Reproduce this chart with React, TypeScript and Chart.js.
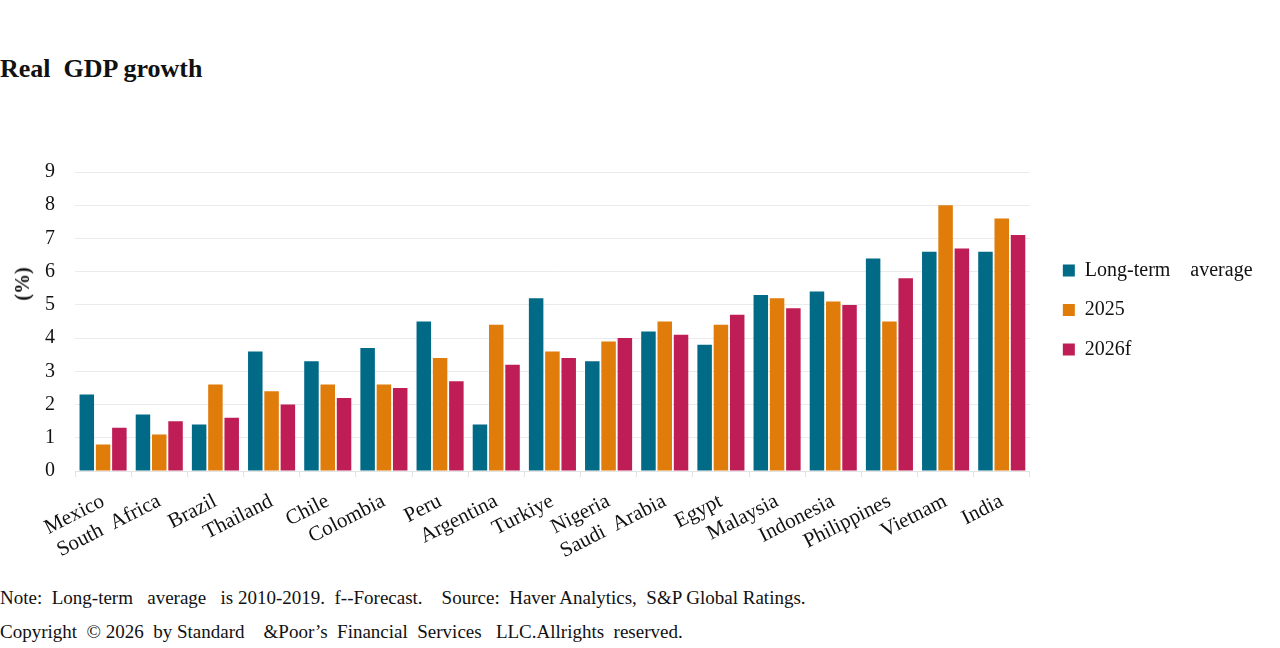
import React, { useEffect, useRef } from "react";
import { Chart, registerables } from "chart.js";

Chart.register(...registerables);

const categories = [
  "Mexico", "South  Africa", "Brazil", "Thailand", "Chile", "Colombia", "Peru",
  "Argentina", "Turkiye", "Nigeria", "Saudi  Arabia", "Egypt", "Malaysia",
  "Indonesia", "Philippines", "Vietnam", "India",
];
const longTermAverage = [2.3, 1.7, 1.4, 3.6, 3.3, 3.7, 4.5, 1.4, 5.2, 3.3, 4.2, 3.8, 5.3, 5.4, 6.4, 6.6, 6.6];
const y2025 = [0.8, 1.1, 2.6, 2.4, 2.6, 2.6, 3.4, 4.4, 3.6, 3.9, 4.5, 4.4, 5.2, 5.1, 4.5, 8.0, 7.6];
const y2026f = [1.3, 1.5, 1.6, 2.0, 2.2, 2.5, 2.7, 3.2, 3.4, 4.0, 4.1, 4.7, 4.9, 5.0, 5.8, 6.7, 7.1];
const seriesNames = ["Long-term    average", "2025", "2026f"];
const seriesColors = ["#006a87", "#df7c0a", "#be1e55"];
const yTicks = [0, 1, 2, 3, 4, 5, 6, 7, 8, 9];

const FONT = "'Liberation Serif', 'Times New Roman', serif";

export default function App() {
  const ref = useRef<HTMLCanvasElement | null>(null);

  useEffect(() => {
    if (!ref.current) return;
    const chart = new Chart(ref.current, {
      type: "bar",
      data: {
        labels: categories,
        datasets: [longTermAverage, y2025, y2026f].map((d, i) => ({
          label: seriesNames[i],
          data: d,
          backgroundColor: seriesColors[i],
          borderWidth: 0,
          categoryPercentage: 0.87,
          barPercentage: 0.89,
        })),
      },
      options: {
        animation: false,
        responsive: true,
        maintainAspectRatio: false,
        layout: { padding: { top: 11, right: 28, bottom: 0, left: 0 } },
        plugins: {
          tooltip: { enabled: false },
          legend: {
            position: "right",
            align: "start",
            title: {
              display: true,
              text: " ",
              font: { size: 10, lineHeight: 1 },
              padding: { top: 80, bottom: 0 },
            },
            labels: {
              boxWidth: 12,
              boxHeight: 12,
              padding: 19.5,
              color: "#111",
              font: { family: FONT, size: 20 },
            },
          },
        },
        scales: {
          x: {
            grid: {
              display: true,
              drawOnChartArea: false,
              drawTicks: true,
              tickLength: 6,
              color: "#e3e3e3",
              offset: true,
            },
            border: { display: true, color: "#e3e3e3" },
            ticks: {
              color: "#111",
              font: { family: FONT, size: 21 },
              maxRotation: 27,
              minRotation: 27,
              padding: 12,
              autoSkip: false,
            },
            afterFit: (s: any) => {
              s.height = 89;
            },
          },
          y: {
            min: 0,
            max: 9,
            afterBuildTicks: (s: any) => {
              s.ticks = yTicks.map((v) => ({ value: v }));
            },
            grid: { color: "#ebebeb", drawTicks: false },
            border: { display: false },
            ticks: {
              color: "#111",
              font: { family: FONT, size: 20 },
              padding: 20,
            },
            afterFit: (s: any) => {
              s.width = 75;
            },
          },
          y2: {
            position: "right",
            display: true,
            grid: { display: false },
            border: { display: false },
            ticks: { display: false },
            afterFit: (s: any) => {
              s.width = 13.5;
            },
          },
        },
      },
    });
    return () => chart.destroy();
  }, []);

  return (
    <div style={{ position: "absolute", left: 0, top: 0, width: 1280, height: 648, background: "#fff", fontFamily: FONT, color: "#111" }}>
      <div style={{ position: "absolute", left: 0, top: 53, fontSize: 26, fontWeight: "bold", whiteSpace: "pre", lineHeight: "32px" }}>
        Real  GDP growth
      </div>
      <div style={{ position: "absolute", left: 0, top: 140, width: 1280, height: 420 }}>
        <canvas ref={ref} />
      </div>
      <div style={{ position: "absolute", left: 22, top: 284, transform: "translate(-50%, -50%) rotate(-90deg)", fontSize: 20, fontWeight: "bold", whiteSpace: "pre", lineHeight: "24px" }}>
        (%)
      </div>
      <div style={{ position: "absolute", left: 0, top: 586, fontSize: 19, whiteSpace: "pre", lineHeight: "24px" }}>
        {"Note:  Long-term   average   is 2010-2019.  f--Forecast.    Source:  Haver Analytics,  S&P Global Ratings."}
      </div>
      <div style={{ position: "absolute", left: 0, top: 620, fontSize: 19, whiteSpace: "pre", lineHeight: "24px" }}>
        {"Copyright  \u00a9 2026  by Standard    &Poor\u2019s  Financial  Services   LLC.Allrights  reserved."}
      </div>
    </div>
  );
}
